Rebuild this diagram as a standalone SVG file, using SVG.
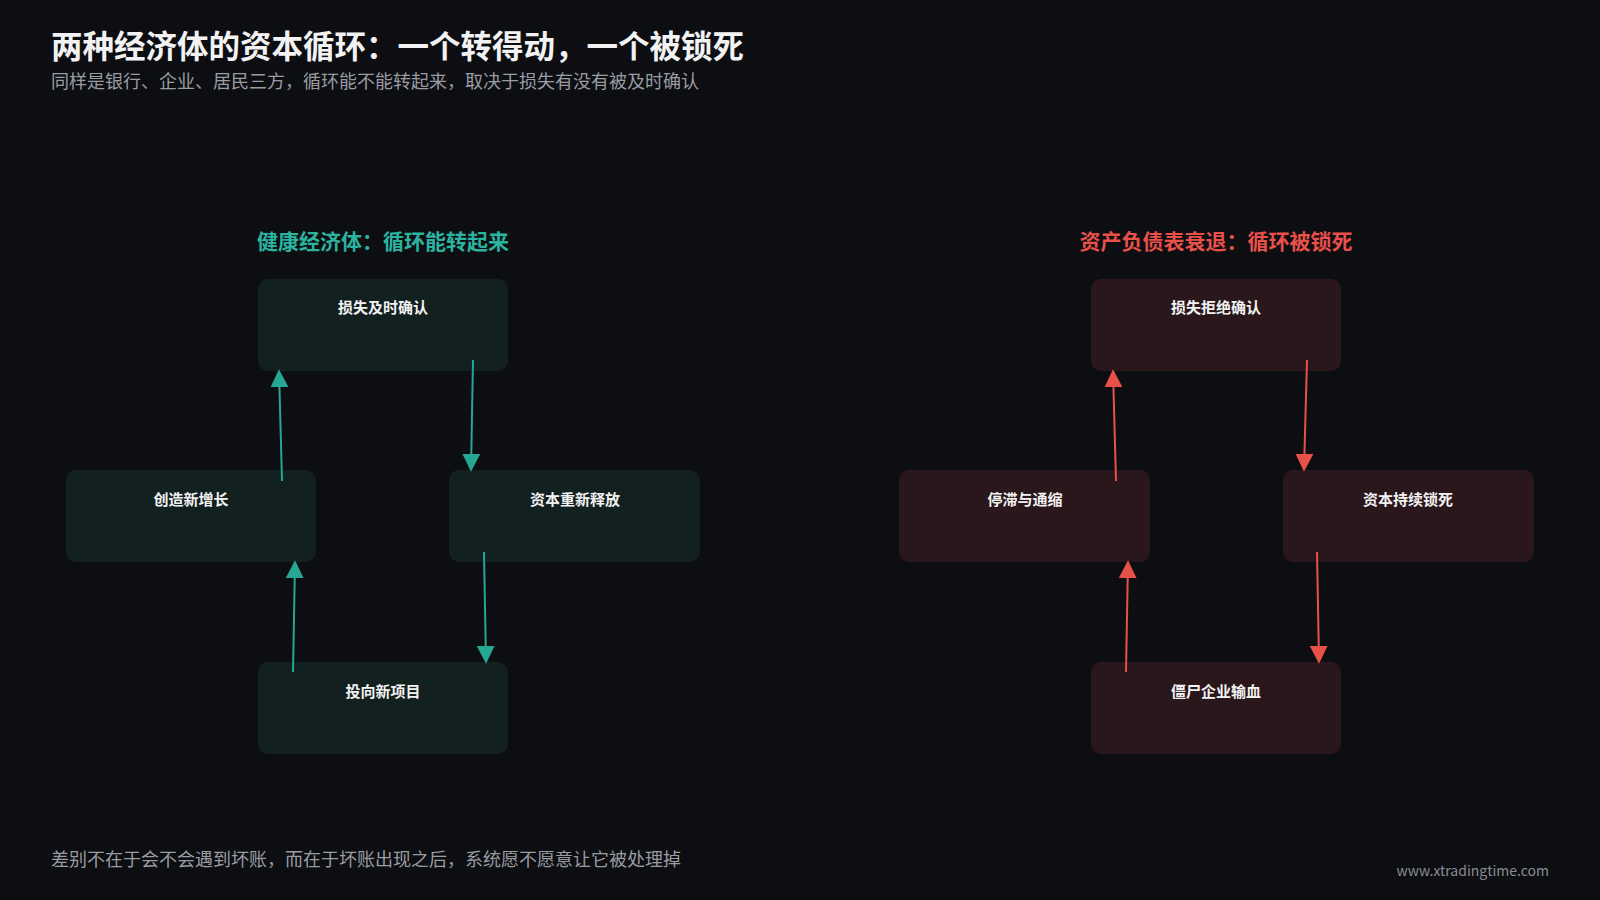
<svg xmlns="http://www.w3.org/2000/svg" width="1600" height="900" viewBox="0 0 1600 900">
<style>
text{font-family:"Noto Sans CJK SC","Noto Sans",sans-serif}
.g rect{fill:#12201f}
.r rect{fill:#2a171b}
.lbl{fill:#f2f2f2;font-size:15px;font-weight:700;text-anchor:middle}
.ct line{stroke:#26a693;stroke-width:2}
.cr line{stroke:#e8504a;stroke-width:2}
</style>
<defs>
<marker id="ag" viewBox="0 0 10 10" refX="9" refY="5" markerWidth="9" markerHeight="9" orient="auto"><path d="M0,0L10,5L0,10z" fill="#26a693"/></marker>
<marker id="ar" viewBox="0 0 10 10" refX="9" refY="5" markerWidth="9" markerHeight="9" orient="auto"><path d="M0,0L10,5L0,10z" fill="#e8504a"/></marker>
</defs>
<rect width="1600" height="900" fill="#0d0e12"/>
<text x="51" y="58" font-size="31.5" font-weight="700" fill="#f2f2f2">两种经济体的资本循环：一个转得动，一个被锁死</text>
<text x="51" y="88" font-size="18" fill="#9a9ca3">同样是银行、企业、居民三方，循环能不能转起来，取决于损失有没有被及时确认</text>
<text x="383" y="249" font-size="21" font-weight="700" fill="#2bb3a0" text-anchor="middle">健康经济体：循环能转起来</text>
<text x="1216" y="249" font-size="21" font-weight="700" fill="#e8504a" text-anchor="middle">资产负债表衰退：循环被锁死</text>
<g id="n1" class="g"><rect x="258" y="279" width="250" height="92" rx="10"/><text class="lbl" x="383" y="313">损失及时确认</text></g>
<g id="n2" class="g"><rect x="449" y="470" width="251" height="92" rx="10"/><text class="lbl" x="575" y="505">资本重新释放</text></g>
<g id="n3" class="g"><rect x="258" y="662" width="250" height="92" rx="10"/><text class="lbl" x="383" y="697">投向新项目</text></g>
<g id="n4" class="g"><rect x="66" y="470" width="250" height="92" rx="10"/><text class="lbl" x="191" y="505">创造新增长</text></g>
<g id="m1" class="r"><rect x="1091" y="279" width="250" height="92" rx="10"/><text class="lbl" x="1216" y="313">损失拒绝确认</text></g>
<g id="m2" class="r"><rect x="1283" y="470" width="251" height="92" rx="10"/><text class="lbl" x="1408" y="505">资本持续锁死</text></g>
<g id="m3" class="r"><rect x="1091" y="662" width="250" height="92" rx="10"/><text class="lbl" x="1216" y="697">僵尸企业输血</text></g>
<g id="m4" class="r"><rect x="899" y="470" width="251" height="92" rx="10"/><text class="lbl" x="1025" y="505">停滞与通缩</text></g>
<g id="connectors">
<g class="ct">
<line x1="473" y1="360" x2="471" y2="470" marker-end="url(#ag)"/>
<line x1="484" y1="552" x2="486" y2="662" marker-end="url(#ag)"/>
<line x1="293" y1="672" x2="295" y2="562" marker-end="url(#ag)"/>
<line x1="282" y1="481" x2="279" y2="371" marker-end="url(#ag)"/>
</g>
<g class="cr">
<line x1="1307" y1="360" x2="1304" y2="470" marker-end="url(#ar)"/>
<line x1="1317" y1="552" x2="1319" y2="662" marker-end="url(#ar)"/>
<line x1="1126" y1="672" x2="1128" y2="562" marker-end="url(#ar)"/>
<line x1="1116" y1="481" x2="1113" y2="371" marker-end="url(#ar)"/>
</g>
</g>
<text x="51" y="866" font-size="18" fill="#9a9ca3">差别不在于会不会遇到坏账，而在于坏账出现之后，系统愿不愿意让它被处理掉</text>
<text x="1549" y="876" font-size="14" fill="#8a8c93" text-anchor="end">www.xtradingtime.com</text>
</svg>
